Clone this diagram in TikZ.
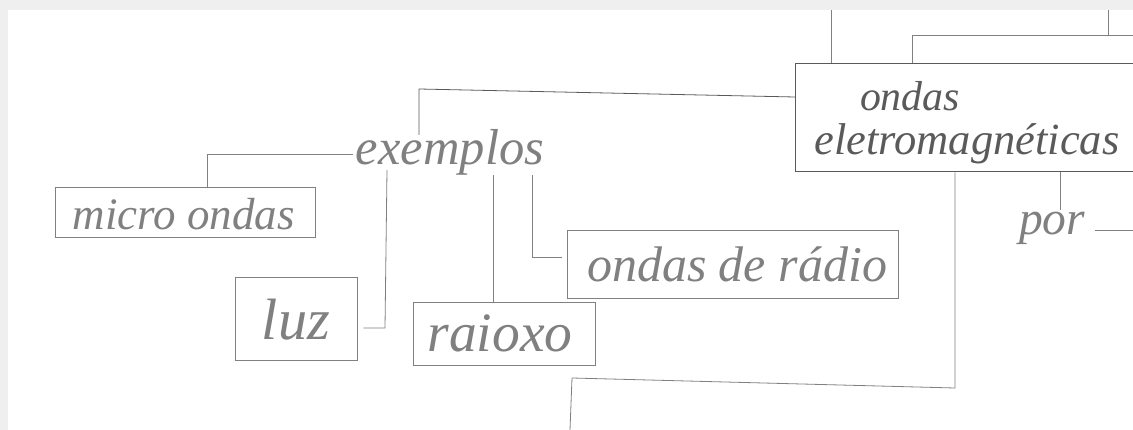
\documentclass[tikz,border=0pt]{standalone}
\usepackage{fontspec}
\setmainfont{Liberation Serif}
\usepackage{graphicx}
\definecolor{pencil}{HTML}{808080}
\definecolor{pencildark}{HTML}{5A5A5A}
\definecolor{frame}{HTML}{EFEFEF}
\newcommand{\hw}[2]{\resizebox{#1}{!}{\itshape #2}}
\begin{document}
\begin{tikzpicture}[x=1pt,y=-1pt,
  conn/.style={draw=pencil,line width=0.8pt},
  box/.style={draw=pencil,line width=0.8pt,inner sep=0pt,text=pencil},
  word/.style={inner sep=0pt,text=pencil}]
\useasboundingbox (0,0) rectangle (1133,430);
\fill[white] (0,0) rectangle (1133,430);
\fill[frame] (0,0) rectangle (1133,10);
\fill[frame] (0,0) rectangle (8,430);

% main node
\node[box,draw=pencildark,line width=1pt,minimum width=338pt,minimum height=108pt] (em) at (964,118) {};
\node[word,text=pencildark] (em1) at (910,96) {\hw{100pt}{ondas}};
\node[word,text=pencildark] (em2) at (967,144) {\hw{305pt}{eletromagnéticas}};

% other nodes
\node[word] (ex) at (450,152) {\hw{188pt}{exemplos}};
\node[box,minimum width=260pt,minimum height=50pt] (mo) at (185,212) {};
\node[word] (mot) at (184,214) {\hw{222pt}{micro ondas}};
\node[box,minimum width=122pt,minimum height=83pt] (luz) at (296,318.5) {};
\node[word] (luzt) at (296,320) {\hw{68pt}{luz}};
\node[box,minimum width=182pt,minimum height=63pt] (rx) at (504,333.5) {};
\node[word] (rxt) at (500,333) {\hw{145pt}{raioxo}};
\node[box,minimum width=331pt,minimum height=68pt] (odr) at (732.5,264) {};
\node[word] (odrt) at (737,264) {\hw{300pt}{ondas de rádio}};
\node[word] (por) at (1052,228) {\hw{66pt}{por}};

% free ends and bends
\coordinate (t1) at (831,10);
\coordinate (t2) at (1108,10);
\coordinate (b2a) at (912,35);
\coordinate (b2b) at (1133,35);
\coordinate (l0) at (795,97);
\coordinate (l1) at (419,89);
\coordinate (l1e) at (419,135);
\coordinate (x0) at (353,154);
\coordinate (x1) at (207,154);
\coordinate (y1) at (387,170);
\coordinate (x2) at (385,328);
\coordinate (y2) at (493,175);
\coordinate (y3) at (532,175);
\coordinate (x3) at (532,257);
\coordinate (d1) at (955,388);
\coordinate (d2) at (572,378);
\coordinate (d3) at (570,430);
\coordinate (p1) at (1060,210);
\coordinate (p2) at (1095,230);
\coordinate (pr) at (1133,230);

% connectors
\draw[conn] (t1) -- (t1 |- em.north);
\draw[conn] (b2a |- em.north) -- (b2a) -- (b2b);
\draw[conn] (t2) -- (t2 |- b2a);
\draw[conn,draw=pencildark] (l0) -- (l1) -- (l1e);
\draw[conn] (x0) -- (x1) -- (x1 |- mo.north);
\draw[conn] (y1) -- (x2) -- ([xshift=6pt]luz.east |- x2);
\draw[conn] (y2) -- (y2 |- rx.north);
\draw[conn] (y3) -- (x3) -- ([xshift=-5pt]odr.west |- x3);
\draw[conn] (em.south -| d1) -- (d1) -- (d2) -- (d3);
\draw[conn] (em.south -| p1) -- (p1);
\draw[conn] (p2) -- (pr);
\end{tikzpicture}
\end{document}
